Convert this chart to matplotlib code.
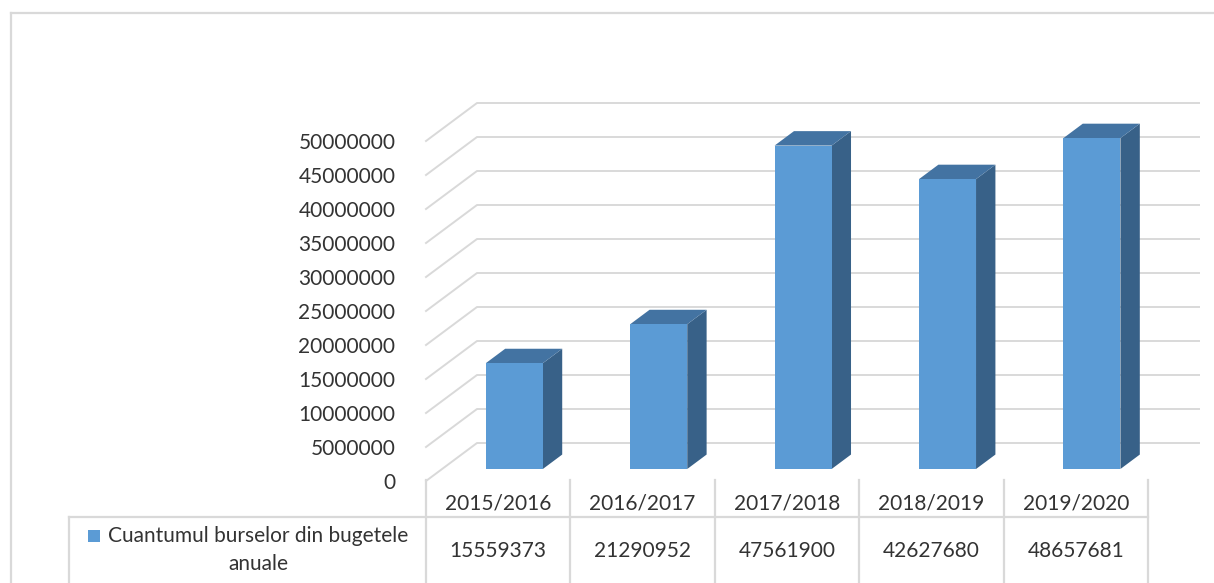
import matplotlib
matplotlib.use('Agg')
import matplotlib.pyplot as plt
from matplotlib.patches import Polygon, Rectangle
from matplotlib.transforms import blended_transform_factory

categories = ['2015/2016', '2016/2017', '2017/2018', '2018/2019', '2019/2020']
values = [15559373, 21290952, 47561900, 42627680, 48657681]
series_name = 'Cuantumul burselor din bugetele\nanuale'
yticks = list(range(0, 50000001, 5000000))

W, H = 1214, 583
plt.rcParams['font.family'] = ['Lato', 'DejaVu Sans']
txt = '#333333'
grid = '#d9d9d9'

fig = plt.figure(figsize=(W / 100, H / 100), dpi=100)
# front plane of the 3d box (pixels): x 426..1148, y 481 (0) .. 141 (50M)
ax = fig.add_axes([426 / W, 1 - 481 / H, (1148 - 426) / W, (481 - 141) / H])
ax.set_xlim(-0.5, len(categories) - 0.5)
ax.set_ylim(0, 50000000)
for s in ax.spines.values():
    s.set_visible(False)
ax.set_xticks([])
ax.set_yticks(yticks)
ax.set_yticklabels([str(v) for v in yticks])
ax.tick_params(axis='y', length=0, pad=22, labelsize=15, labelcolor=txt)

# depth of the floor, converted to data units
px_cat = (1148 - 426) / len(categories)
px_val = 340 / 50000000
DX = 51 / px_cat
DY = 38 / px_val

# walls: diagonal on side wall + horizontal on back wall
for v in yticks:
    ax.plot([-0.5, -0.5 + DX, len(categories) - 0.5 + DX], [v, v + DY, v + DY],
            color=grid, lw=1.4, clip_on=False, zorder=1)

# bars
d0, dd, w = 0.316, 0.38, 0.395
for i, v in enumerate(values):
    cx = i + d0 * DX
    x0, x1 = cx - w / 2, cx + w / 2
    y0, y1 = d0 * DY, v + d0 * DY
    ex, ey = dd * DX, dd * DY
    side = Polygon([(x1, y0), (x1 + ex, y0 + ey), (x1 + ex, y1 + ey), (x1, y1)],
                   closed=True, fc='#386188', ec='none', clip_on=False, zorder=3)
    top = Polygon([(x0, y1), (x1, y1), (x1 + ex, y1 + ey), (x0 + ex, y1 + ey)],
                  closed=True, fc='#4373a2', ec='none', clip_on=False, zorder=3)
    front = Rectangle((x0, y0), w, v, fc='#5b9bd5', ec='none',
                      clip_on=False, zorder=4)
    ax.add_patch(side)
    ax.add_patch(top)
    ax.add_patch(front)

# data table under the chart
def fy(py):
    return 1 - py / H

tr = blended_transform_factory(ax.transData, fig.transFigure)
n = len(categories)
for k in range(n + 1):
    ax.plot([k - 0.5, k - 0.5], [fy(480), fy(590)], color=grid, lw=1.6,
            transform=tr, clip_on=False)
leg_left = -0.5 + (69 - 426) / px_cat
ax.plot([leg_left, n - 0.5], [fy(517), fy(517)], color=grid, lw=1.6,
        transform=tr, clip_on=False)
ax.plot([leg_left, leg_left], [fy(517), fy(590)], color=grid, lw=1.6,
        transform=tr, clip_on=False)
for i, (c, v) in enumerate(zip(categories, values)):
    ax.text(i, fy(503), c, transform=tr, ha='center', va='center',
            fontsize=15, color=txt)
    ax.text(i, fy(551), str(v), transform=tr, ha='center', va='center',
            fontsize=15, color=txt)

fig.patches.append(Rectangle((88 / W, fy(542)), 12 / W, 12 / H, fc='#5b9bd5',
                             ec='none', transform=fig.transFigure))
fig.text(258 / W, fy(550), series_name, ha='center', va='center',
         multialignment='center', fontsize=15, color=txt, linespacing=1.45)

# outer chart border
fig.add_artist(plt.Line2D([11 / W, 11 / W], [0, fy(13)], color=grid, lw=1.6))
fig.add_artist(plt.Line2D([11 / W, 1], [fy(13), fy(13)], color=grid, lw=1.6))

fig.savefig('out.png', dpi=100)
